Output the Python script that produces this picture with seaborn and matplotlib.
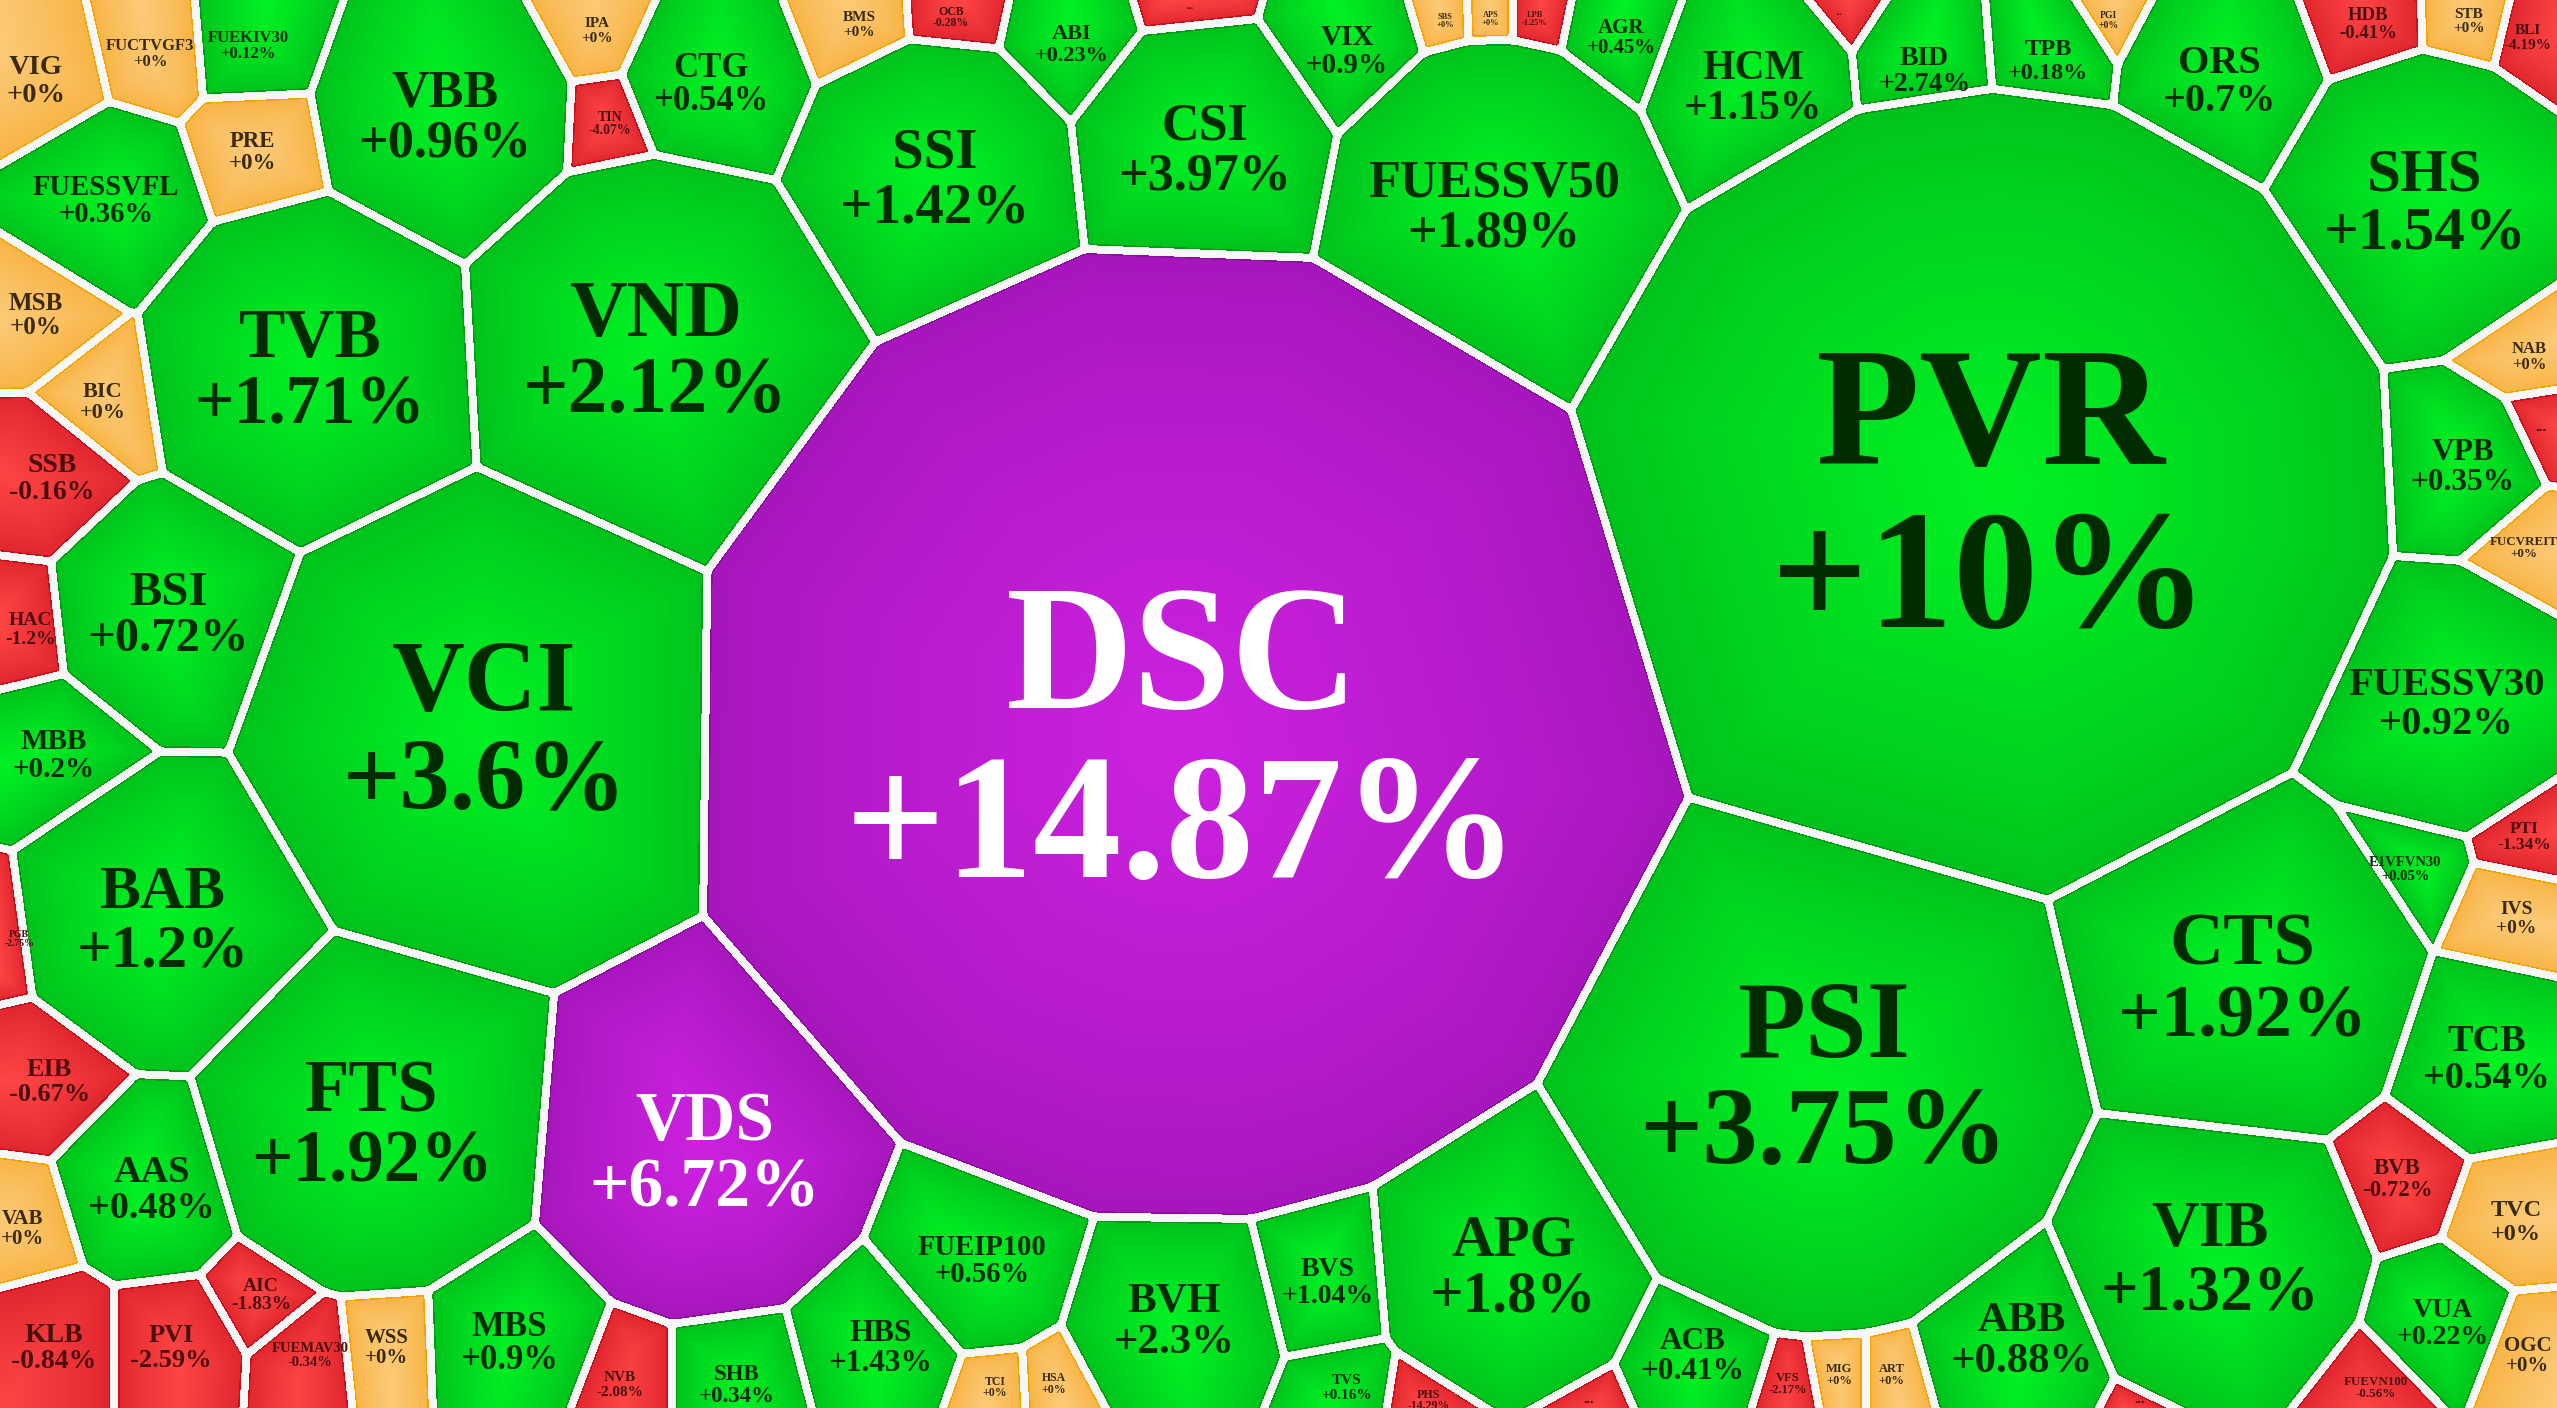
import numpy as np
import matplotlib
matplotlib.use("Agg")
import matplotlib.pyplot as plt
import seaborn as sns

sns.set_style("white")

# output size and the layout units the cells were read in
W, H = 2557, 1408
VW, VH = 1568, 863

# --- data -------------------------------------------------------------
tickers = ["VIG", "FUCTVGF3", "FUEKIV30", "PRE", "FUESSVFL", "MSB", "VBB", "IPA", "TIN", "CTG",
           "BMS", "OCB", "ABI", "...", "CSI", "SSI", "VIX", "SBS", "APS", "LPB",
           "AGR", "FUESSV50", "HCM", "...", "BID", "TPB", "PGI", "ORS", "HDB", "STB",
           "BLI", "SHS", "NAB", "...", "VPB", "FUCVREIT", "FUESSV30", "PVR", "PTI", "E1VFVN30",
           "IVS", "CTS", "TCB", "BVB", "TVC", "VIB", "VUA", "OGC", "FUEVN100", "ABB",
           "...", "PSI", "APG", "ACB", "VFS", "MIG", "ART", "PHS", "...", "BVS",
           "TVS", "BVH", "FUEIP100", "TCI", "HSA", "HBS", "SHB", "NVB", "MBS", "VDS",
           "DSC", "WSS", "FUEMAV30", "AIC", "PVI", "KLB", "VAB", "AAS", "EIB", "FTS",
           "BAB", "PGB", "MBB", "BSI", "HAC", "SSB", "BIC", "TVB", "VND", "VCI"]

# % change; None = cell too small to show its value (all of those are red)
changes = [0, 0, 0.12, 0, 0.36, 0, 0.96, 0, -4.07, 0.54,
           0, -0.28, 0.23, None, 3.97, 1.42, 0.9, 0, 0, -1.25,
           0.45, 1.89, 1.15, None, 2.74, 0.18, 0, 0.7, -0.41, 0,
           -4.19, 1.54, 0, None, 0.35, 0, 0.92, 10, -1.34, 0.05,
           0, 1.92, 0.54, -0.72, 0, 1.32, 0.22, 0, -0.56, 0.88,
           None, 3.75, 1.8, 0.41, -2.17, 0, 0, -14.29, None, 1.04,
           0.16, 2.3, 0.56, 0, 0, 1.43, 0.34, -2.08, 0.9, 6.72,
           14.87, 0, -0.34, -1.83, -2.59, -0.84, 0, 0.48, -0.67, 1.92,
           1.2, -2.75, 0.2, 0.72, -1.2, -0.16, 0, 1.71, 2.12, 3.6]

ceiling_hits = ["DSC", "VDS"]

# --- layout: cell centres and rough radii (layout units) -------------
cell_x = [22, 92, 152, 155, 65, 22, 273, 366, 374, 436,
          527, 583, 657, 730, 739, 573, 826, 886, 914, 941,
          994, 916, 1075, 1128, 1180, 1256, 1293, 1361, 1452, 1514,
          1556, 1487, 1551, 1558, 1510, 1553, 1500, 1220, 1553, 1475,
          1543, 1375, 1525, 1470, 1543, 1355, 1498, 1550, 1457, 1240,
          1312, 1118, 928, 1038, 1096, 1128, 1160, 876, 974, 814,
          826, 720, 602, 610, 646, 540, 452, 380, 312, 432,
          725, 237, 190, 160, 105, 33, 14, 93, 26, 228,
          100, 6, 33, 103, 14, 25, 63, 190, 402, 297]
cell_y = [48, 32, 27, 92, 122, 192, 70, 18, 75, 50,
          14, 10, 26, 4, 90, 108, 30, 12, 11, 11,
          22, 125, 52, 8, 42, 36, 12, 48, 14, 12,
          22, 122, 218, 262, 285, 335, 430, 300, 512, 532,
          562, 598, 648, 722, 748, 770, 810, 830, 850, 820,
          858, 658, 775, 830, 848, 842, 842, 858, 858, 785,
          850, 808, 772, 850, 848, 825, 848, 848, 822, 705,
          450, 825, 830, 793, 825, 825, 752, 728, 662, 688,
          562, 575, 462, 375, 385, 292, 245, 225, 213, 445]
cell_r = [41, 32, 32, 33, 55, 36, 75, 22, 20, 50,
          22, 17, 32, 14, 75, 82, 42, 12, 12, 12,
          30, 100, 60, 13, 40, 35, 14, 58, 27, 22,
          22, 88, 24, 22, 45, 25, 78, 245, 25, 28,
          28, 108, 55, 33, 35, 95, 40, 30, 25, 62,
          20, 160, 85, 45, 18, 18, 18, 20, 20, 40,
          22, 62, 55, 17, 17, 45, 33, 22, 50, 100,
          297, 30, 28, 28, 38, 40, 30, 55, 38, 105,
          88, 20, 42, 70, 28, 40, 32, 100, 115, 145]

n = len(tickers)
k = W / VW
sx = np.array(cell_x, dtype=np.float32) * k
sy = np.array(cell_y, dtype=np.float32) * k
wt = (np.array(cell_r, dtype=np.float32) * k) ** 2

# --- power diagram on the pixel grid ------------------------------------
yy, xx = np.mgrid[0:H, 0:W].astype(np.float32) + 0.5
best = np.full((H, W), np.inf, dtype=np.float32)
idx = np.zeros((H, W), dtype=np.int16)
for i in range(n):
    p = (xx - sx[i]) ** 2 + (yy - sy[i]) ** 2 - wt[i]
    m = p < best
    best[m] = p[m]
    idx[m] = i

# distance to the two nearest cell edges
bx, by = sx[idx], sy[idx]
g1 = np.full((H, W), np.inf, dtype=np.float32)
g2 = np.full((H, W), np.inf, dtype=np.float32)
for j in range(n):
    d = 2 * np.hypot(sx[j] - bx, sy[j] - by)
    p = (xx - sx[j]) ** 2 + (yy - sy[j]) ** 2 - wt[j]
    g = (p - best) / np.maximum(d, 1e-3)
    g[idx == j] = np.inf
    g2 = np.minimum(g2, np.maximum(g1, g))
    g1 = np.minimum(g1, g)

rr = 6.0
corner = (g1 < rr) & (g2 < rr)
dist = np.where(corner, rr - np.hypot(rr - g1, rr - g2), g1)

halfw = 4.0
inner = dist - halfw
maxd = np.zeros(n, dtype=np.float32)
np.maximum.at(maxd, idx.ravel(), inner.ravel())
t = np.clip(inner / np.maximum(maxd[idx], 1), 0, 1) ** 0.8

# --- colours ------------------------------------------------------------
def group(tk, ch):
    if tk in ceiling_hits:
        return 3
    if ch is None or ch < 0:
        return 2
    if ch == 0:
        return 1
    return 0

cat = np.array([group(tk, ch) for tk, ch in zip(tickers, changes)])
ramps = [("#00c21c", "#00f224"),   # up
         ("#f8b445", "#fcca78"),   # unchanged
         ("#e0262e", "#ff4444"),   # down
         ("#a616bc", "#cc22e0")]   # ceiling
lut = np.array([sns.blend_palette(list(r), 64) for r in ramps])
outline = np.array([matplotlib.colors.to_rgb(c) for c in ["#009c14", "#f5a300", "#c8101c", "#8c10a0"]])
text_col = ["#002c00", "#3a2a10", "#4a1010", "white"]

img = lut[cat[idx], (t * 63).astype(int)]
edge = (inner >= 0) & (inner < 1.5)
img[edge] = outline[cat[idx][edge]]
img[inner < 0] = matplotlib.colors.to_rgb("#f7f7f7")

fig = plt.figure(figsize=(W / 100, H / 100), dpi=100)
ax = fig.add_axes([0, 0, 1, 1])
ax.imshow(img, extent=[0, VW, VH, 0], interpolation="nearest")
ax.set_xlim(0, VW)
ax.set_ylim(VH, 0)
ax.axis("off")

fam = ["Liberation Serif", "DejaVu Serif"]
for tk, ch, x, y, r, c in zip(tickers, changes, cell_x, cell_y, cell_r, cat):
    lines = [tk] if ch is None else [tk, f"{ch:+g}%"]
    longest = max(len(s) for s in lines)
    fs = min(0.5 * r, 3.0 * r / longest)
    em = fs * 100 / 72 / k
    # keep labels of edge cells inside the picture
    hw = 0.3 * longest * em
    if hw - min(x, VW - x) > 0.4 * r:
        fs *= 0.7
        em *= 0.7
        hw *= 0.7
    x = min(max(x, hw + 1), VW - hw - 1)
    if len(lines) == 1:
        ax.text(x, y, tk, ha="center", va="center", fontsize=fs, fontweight="bold",
                family=fam, color=text_col[c])
        continue
    ax.text(x, y - 0.15 * em, lines[0], ha="center", va="baseline", fontsize=fs,
            fontweight="bold", family=fam, color=text_col[c])
    ax.text(x, y + 0.81 * em, lines[1], ha="center", va="baseline", fontsize=fs,
            fontweight="bold", family=fam, color=text_col[c])

fig.savefig("out.png", dpi=100)
